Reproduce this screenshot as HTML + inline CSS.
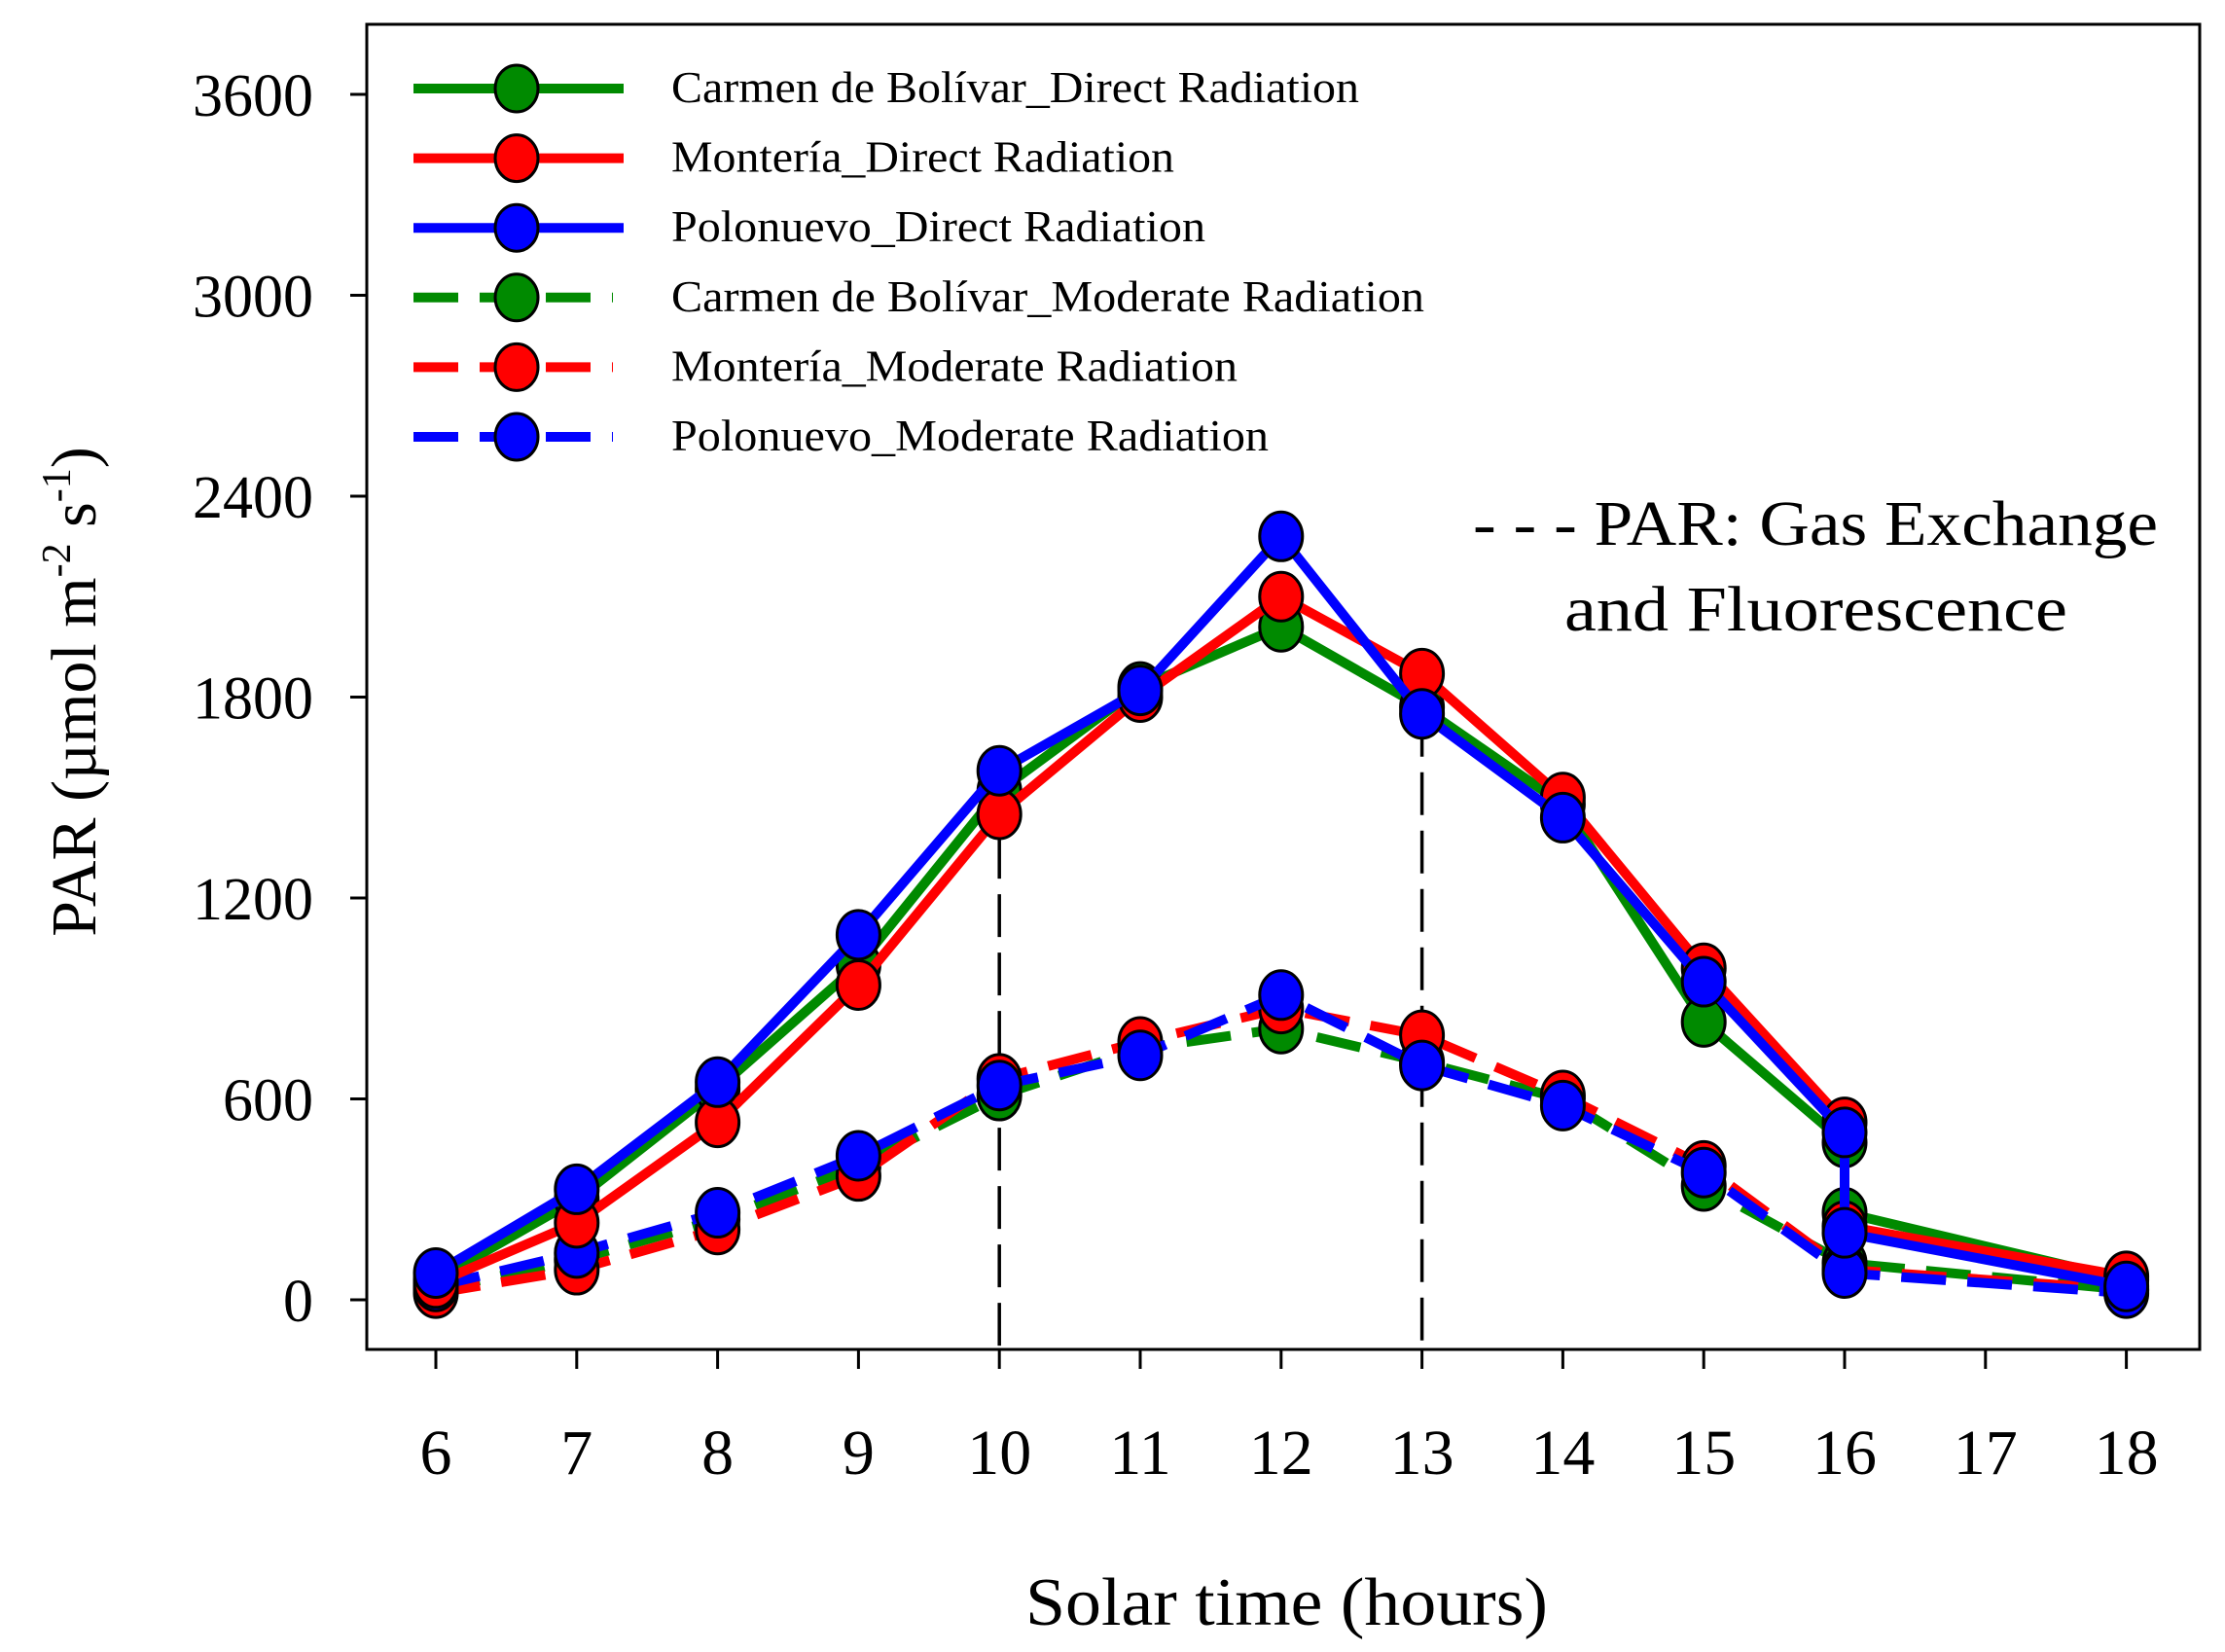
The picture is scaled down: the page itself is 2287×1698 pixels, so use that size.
<!DOCTYPE html>
<html><head><meta charset="utf-8">
<style>
html,body{margin:0;padding:0;background:#fff;}
svg{display:block;}
text{font-family:"Liberation Serif",serif;fill:#000;}
</style></head>
<body>
<svg id="chart" width="2287" height="1698" viewBox="0 0 2287 1698" xmlns="http://www.w3.org/2000/svg">
<rect x="0" y="0" width="2287" height="1698" fill="#fff"/>
<g id="frame"></g>
<g id="guides"></g>
<g id="series"></g>
<g id="legend"></g>
<text transform="translate(98,711) rotate(-90)" text-anchor="middle" font-size="66">PAR (µmol m<tspan dy="-26" font-size="42">-2</tspan><tspan dy="26"> s</tspan><tspan dy="-26" font-size="42">-1</tspan><tspan dy="26">)</tspan></text>
<text x="1054" y="1670" font-size="70" textLength="537" lengthAdjust="spacingAndGlyphs">Solar time (hours)</text>
<text x="1514" y="560" font-size="66" textLength="704" lengthAdjust="spacingAndGlyphs">- - - PAR: Gas Exchange</text>
<text x="1608" y="648" font-size="66" textLength="517" lengthAdjust="spacingAndGlyphs">and Fluorescence</text>
</svg>
<script>
const xTicks = [6,7,8,9,10,11,12,13,14,15,16,17,18];
const yTicks = [0,600,1200,1800,2400,3000,3600];
const xDirect = [6,7,8,9,10,11,12,13,14,15,16,16,18];
const xModerate = [6,7,8,9,10,11,12,13,14,15,16,18];
const carmenDirect = [60,300,630,1000,1520,1830,2010,1770,1480,830,470,260,60];
const monteriaDirect = [50,230,530,940,1450,1800,2100,1870,1500,990,530,220,70];
const polonuevoDirect = [80,330,650,1090,1580,1820,2280,1750,1440,950,500,200,40];
const carmenModerate = [30,120,240,400,610,750,810,710,600,340,110,30];
const monteriaModerate = [20,90,210,370,660,770,870,790,610,400,90,30];
const polonuevoModerate = [40,140,260,430,640,730,910,700,580,380,80,20];
const guideX = [10,13];
const guideY = [1560,1750];
const legendLabels = ["Carmen de Bolívar_Direct Radiation","Montería_Direct Radiation","Polonuevo_Direct Radiation","Carmen de Bolívar_Moderate Radiation","Montería_Moderate Radiation","Polonuevo_Moderate Radiation"];

const NS="http://www.w3.org/2000/svg";
const X0=448, XS=144.8, Y0=1336, YS=206.5/600;
const sx=v=>X0+(v-6)*XS;
const sy=v=>Y0-v*YS;
function mk(tag,attrs,parent){const e=document.createElementNS(NS,tag);for(const k in attrs)e.setAttribute(k,attrs[k]);parent.appendChild(e);return e;}

const frame=document.getElementById('frame');
const box=mk('rect',{x:377,y:25,width:1884,height:1362,fill:'none',stroke:'#000','stroke-width':3},frame);


yTicks.forEach(v=>{
  const t=mk('line',{x1:360,x2:377,y1:sy(v),y2:sy(v),stroke:'#000','stroke-width':3},frame);
  
  
  const l=mk('text',{x:322,y:sy(v)+22,'text-anchor':'end','font-size':62},frame);
  l.textContent=v;
  
  
});
xTicks.forEach(v=>{
  const t=mk('line',{x1:sx(v),x2:sx(v),y1:1387,y2:1407,stroke:'#000','stroke-width':3},frame);
  
  
  const l=mk('text',{x:sx(v),y:1515,'text-anchor':'middle','font-size':66},frame);
  l.textContent=v;
  
  
});
const guides=document.getElementById('guides');
guideX.forEach((g,i)=>{
  const l=mk('line',{x1:sx(g),x2:sx(g),y1:sy(guideY[i]),y2:1387,stroke:'#000','stroke-width':3.5,'stroke-dasharray':'44 16'},guides);
  
  
});

const series=[
 {xs:xModerate,ys:carmenModerate,c:'#008a00',d:true,n:'carmen-moderate'},
 {xs:xModerate,ys:monteriaModerate,c:'#ff0000',d:true,n:'monteria-moderate'},
 {xs:xModerate,ys:polonuevoModerate,c:'#0000ff',d:true,n:'polonuevo-moderate'},
 {xs:xDirect,ys:carmenDirect,c:'#008a00',d:false,n:'carmen-direct'},
 {xs:xDirect,ys:monteriaDirect,c:'#ff0000',d:false,n:'monteria-direct'},
 {xs:xDirect,ys:polonuevoDirect,c:'#0000ff',d:false,n:'polonuevo-direct'}
];
const sg=document.getElementById('series');
series.forEach(s=>{
  const g=mk('g',{},sg);
  
  
  const pts=s.xs.map((x,i)=>sx(x)+','+sy(s.ys[i])).join(' ');
  const a={points:pts,fill:'none',stroke:s.c,'stroke-width':10,'stroke-linejoin':'round'};
  if(s.d)a['stroke-dasharray']='46 22';
  const pl=mk('polyline',a,g);
  
  
  s.xs.forEach((x,i)=>{
    const c=mk('ellipse',{cx:sx(x),cy:sy(s.ys[i]),rx:22,ry:25,fill:s.c,stroke:'#000','stroke-width':3},g);
    
    
  });
});

const lg=document.getElementById('legend');
const lcol=['#008a00','#ff0000','#0000ff','#008a00','#ff0000','#0000ff'];
const lw=[707,517,549,774,582,614];
legendLabels.forEach((lab,i)=>{
  const y=91+i*71.6;
  const g=mk('g',{},lg);
  
  
  const a={x1:425,x2:641,y1:y,y2:y,stroke:lcol[i],'stroke-width':10};
  if(i>=3){a.x2=630;a['stroke-dasharray']='46 22';}
  mk('line',a,g);
  mk('ellipse',{cx:531,cy:y,rx:22,ry:24,fill:lcol[i],stroke:'#000','stroke-width':3},g);
  const t=mk('text',{x:690,y:y+14,'font-size':45,textLength:lw[i],lengthAdjust:'spacingAndGlyphs'},g);
  t.textContent=lab;
});
</script>
</body></html>
